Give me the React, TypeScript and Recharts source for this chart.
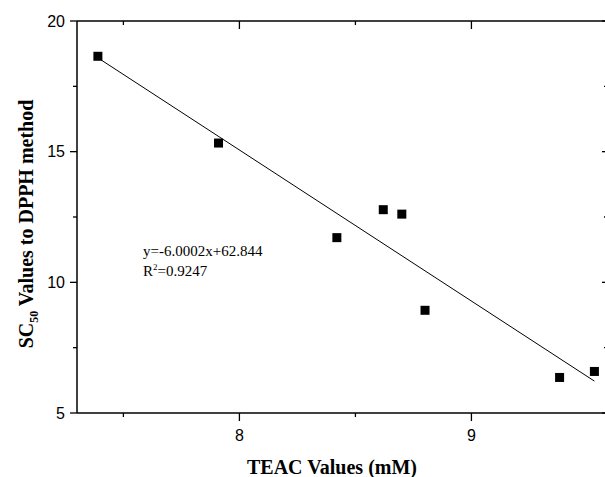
import React from "react";
import { ScatterChart, Scatter, XAxis, YAxis } from "recharts";

//========== Chart Data ==========
const teacValues = [7.39, 7.91, 8.42, 8.62, 8.7, 8.8, 9.38, 9.53];
const sc50Values = [18.65, 15.33, 11.71, 12.78, 12.61, 8.93, 6.36, 6.59];
const fitX = [7.39, 9.53];
const fitY = [18.59, 6.22];
const xTicks = [7.5, 8, 8.5, 9];
const yTicks = [5, 7.5, 10, 12.5, 15, 17.5, 20];
const equationText = "y=-6.0002x+62.844";
const rSquaredText = "=0.9247";

const points = teacValues.map((x, i) => ({ x, y: sc50Values[i] }));
const fitLine = fitX.map((x, i) => ({ x, y: fitY[i] }));

const SANS = "'Liberation Sans', Arial, sans-serif";
const SERIF = "'Liberation Serif', 'Times New Roman', serif";
const AXIS_STROKE = { stroke: "#000", strokeWidth: 1.5 };

const isMajorX = (v: number) => Number.isInteger(v);
const isMajorY = (v: number) => v % 5 === 0;

//========== Tick renderers ==========
const BottomTick = ({ x, y, payload }: any) => {
  const major = isMajorX(payload.value);
  return (
    <g>
      <line x1={x} x2={x} y1={y} y2={y + (major ? 8 : 4)} stroke="#000" strokeWidth={1.3} />
      {major && (
        <text x={x} y={y + 28} textAnchor="middle" fontFamily={SANS} fontSize={16} fill="#000">
          {payload.value}
        </text>
      )}
    </g>
  );
};

const TopTick = ({ x, y, payload }: any) => {
  const major = isMajorX(payload.value);
  return <line x1={x} x2={x} y1={y} y2={y + (major ? 8 : 4)} stroke="#000" strokeWidth={1.3} />;
};

const LeftTick = ({ x, y, payload }: any) => {
  const major = isMajorY(payload.value);
  return (
    <g>
      <line x1={x - (major ? 7 : 4)} x2={x} y1={y} y2={y} stroke="#000" strokeWidth={1.3} />
      {major && (
        <text x={x - 12} y={y + 5.7} textAnchor="end" fontFamily={SANS} fontSize={16} fill="#000">
          {payload.value}
        </text>
      )}
    </g>
  );
};

const RightTick = ({ x, y, payload }: any) => {
  const major = isMajorY(payload.value);
  return <line x1={x - (major ? 4 : 2)} x2={x} y1={y} y2={y} stroke="#000" strokeWidth={1.3} />;
};

const SquareMarker = ({ cx, cy }: any) => (
  <rect x={cx - 4.5} y={cy - 4.5} width={9} height={9} fill="#000" />
);

//========== App ==========
export default function App() {
  return (
    <div
      style={{
        position: "absolute",
        left: 0,
        top: 0,
        width: 605,
        height: 477,
        overflow: "hidden",
        background: "#fff",
      }}
    >
      <ScatterChart width={620} height={477} margin={{ top: 0, right: 0, bottom: 0, left: 0 }}>
        <XAxis
          xAxisId="bottom"
          dataKey="x"
          type="number"
          domain={[7.3, 9.58]}
          ticks={xTicks}
          allowDataOverflow
          height={64}
          tickSize={0}
          tickMargin={0}
          tickLine={false}
          axisLine={AXIS_STROKE}
          tick={<BottomTick />}
          interval={0}
        />
        <XAxis
          xAxisId="top"
          orientation="top"
          dataKey="x"
          type="number"
          domain={[7.3, 9.58]}
          ticks={xTicks}
          allowDataOverflow
          height={21}
          tickSize={0}
          tickMargin={0}
          tickLine={false}
          axisLine={AXIS_STROKE}
          tick={<TopTick />}
          interval={0}
        />
        <YAxis
          yAxisId="left"
          dataKey="y"
          type="number"
          domain={[5, 20]}
          ticks={yTicks}
          allowDataOverflow
          width={77}
          tickSize={0}
          tickMargin={0}
          tickLine={false}
          axisLine={AXIS_STROKE}
          tick={<LeftTick />}
          interval={0}
        />
        <YAxis
          yAxisId="right"
          orientation="right"
          dataKey="y"
          type="number"
          domain={[5, 20]}
          ticks={yTicks}
          allowDataOverflow
          width={14}
          tickSize={0}
          tickMargin={0}
          tickLine={false}
          axisLine={AXIS_STROKE}
          tick={<RightTick />}
          interval={0}
        />
        <Scatter
          xAxisId="bottom"
          yAxisId="left"
          data={fitLine}
          line={{ stroke: "#000", strokeWidth: 1 }}
          shape={() => <g />}
          isAnimationActive={false}
        />
        <Scatter
          xAxisId="bottom"
          yAxisId="left"
          data={points}
          fill="#000"
          shape={<SquareMarker />}
          isAnimationActive={false}
        />

        {/*========== Equation ==========*/}
        <text x={143} y={256} fontFamily={SERIF} fontSize={15} fill="#000">
          {equationText}
        </text>
        <text x={143} y={276} fontFamily={SERIF} fontSize={15} fill="#000">
          R
          <tspan fontSize={9} dy={-6}>
            2
          </tspan>
          <tspan dy={6}>{rSquaredText}</tspan>
        </text>

        {/*========== Axis titles ==========*/}
        <text
          x={332}
          y={474}
          textAnchor="middle"
          fontFamily={SERIF}
          fontWeight="bold"
          fontSize={20}
          fill="#000"
        >
          TEAC Values (mM)
        </text>
        <text
          transform="rotate(-90)"
          x={-224}
          y={33}
          textAnchor="middle"
          fontFamily={SERIF}
          fontWeight="bold"
          fontSize={20}
          fill="#000"
        >
          SC
          <tspan fontSize={12} dy={5}>
            50
          </tspan>
          <tspan dy={-5}> Values to DPPH method</tspan>
        </text>
      </ScatterChart>
    </div>
  );
}
